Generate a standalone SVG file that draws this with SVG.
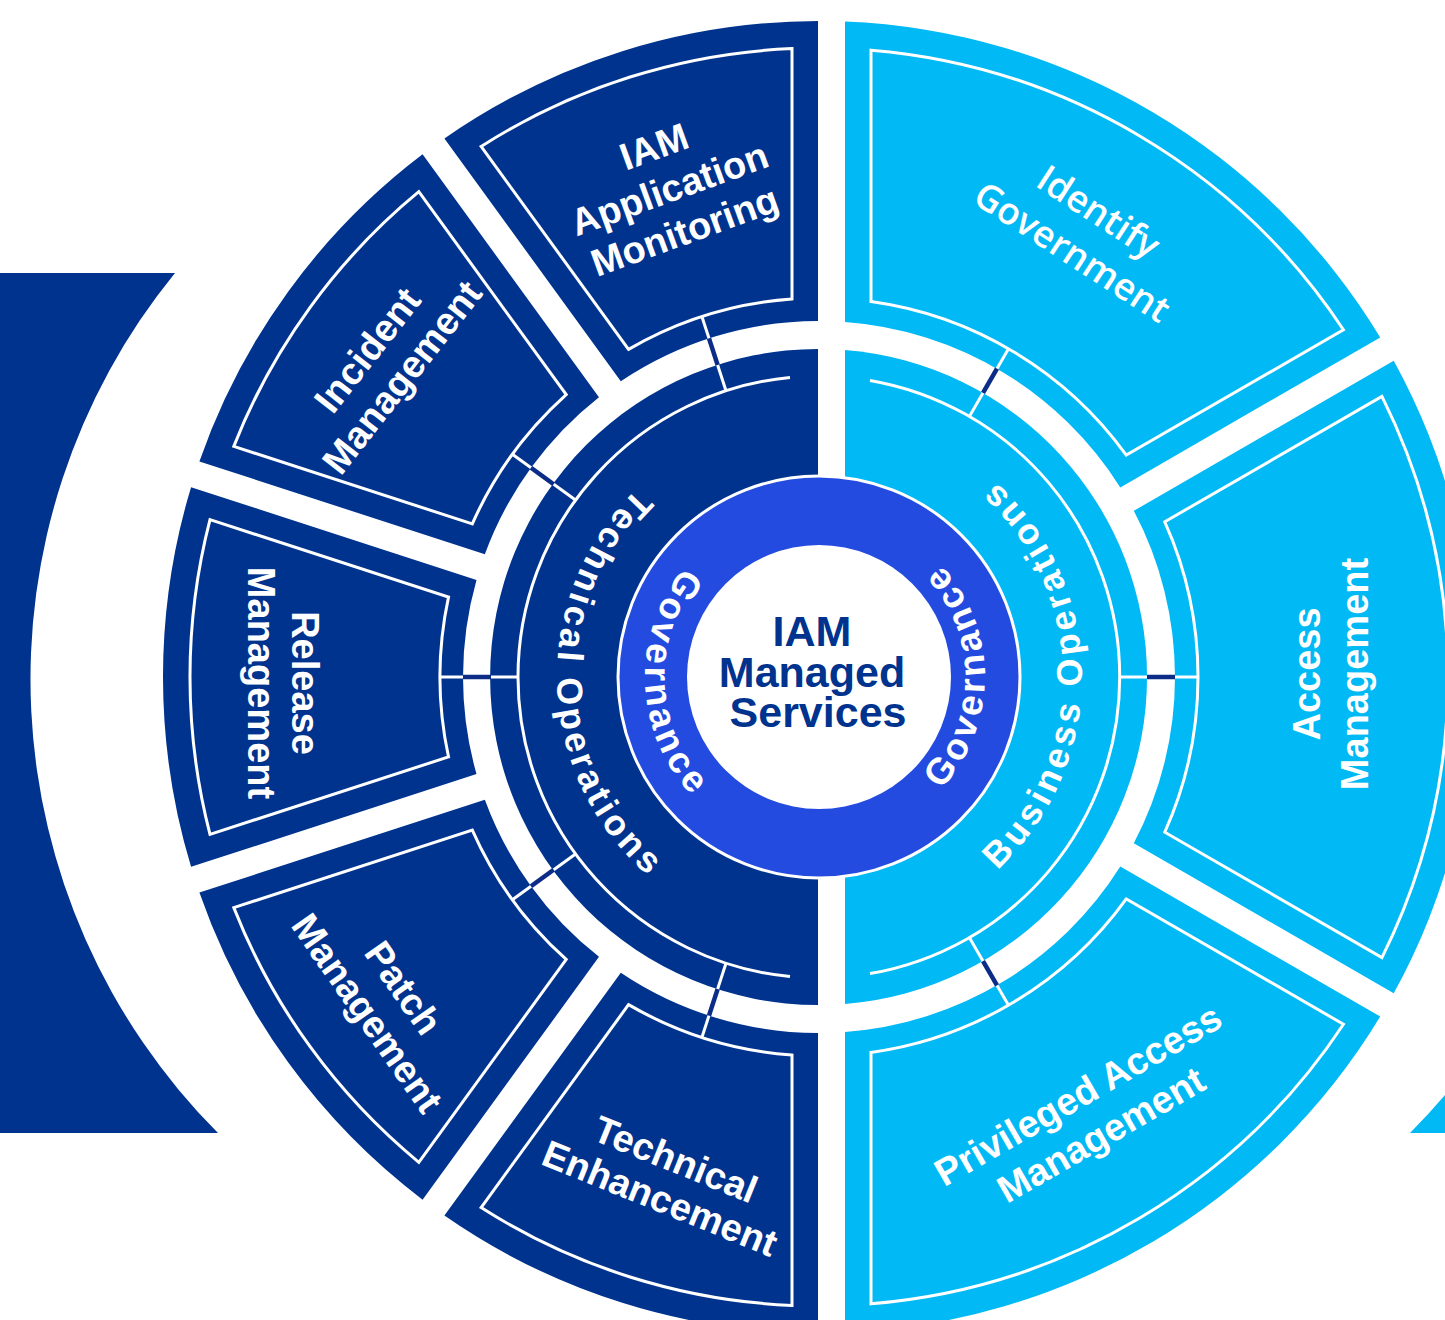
<svg xmlns="http://www.w3.org/2000/svg" width="1445" height="1320" viewBox="0 0 1445 1320">
<defs>
<style>
.navy{fill:#00338E}
.cyan{fill:#00B9F5}
.bd{fill:none;stroke:#fff;stroke-width:3}
.cw{stroke:#fff;stroke-width:3}
.cn{stroke:#0B2D88;stroke-width:4.5}
.arc{fill:none;stroke:#fff;stroke-width:3}
.lbl{font-family:"Liberation Sans",Arial,sans-serif;font-weight:bold;font-size:38px;fill:#fff;text-anchor:middle}
.ig{font-family:"Open Sans","Liberation Sans",sans-serif;font-weight:600;font-size:37px;fill:#fff;text-anchor:middle}
.ring{font-family:"Liberation Sans",Arial,sans-serif;font-weight:bold;font-size:36px;fill:#fff;text-anchor:middle}
.gov{font-family:"Liberation Sans",Arial,sans-serif;font-weight:bold;font-size:37px;fill:#fff;text-anchor:middle}
.ctr{font-family:"Liberation Sans",Arial,sans-serif;font-weight:bold;font-size:43px;fill:#00338E;text-anchor:middle}
</style>
<path id="segL" d="M342.50,-97.09 L627.93,-189.83 A656 656 0 0 1 627.93,189.83 L342.50,97.09 A356 356 0 0 0 342.50,-97.09 Z"/>
<path id="bdL" d="M370.49,-79.89 L609.00,-157.39 A629 629 0 0 1 609.00,157.39 L370.49,79.89 A379 379 0 0 0 370.49,-79.89 Z"/>
<path id="pTO" d="M819,415 A262 262 0 0 0 819,939"/>
<path id="pBO" d="M819,940 A263 263 0 0 0 819,414"/>
<path id="pGL" d="M819,503 A174 174 0 0 0 819,851"/>
<path id="pGR" d="M819,843 A166 166 0 0 0 819,511"/>
<g id="conn">
<line x1="301" y1="0" x2="379" y2="0" class="cw"/>
<line x1="328" y1="0" x2="356" y2="0" class="cn"/>
</g>
</defs>

<rect width="1445" height="1320" fill="#fff"/>

<g id="side-shapes">
<path class="navy" d="M0,273 L175,273 A643 643 0 0 0 218,1133 L0,1133 Z"/>
<path class="cyan" d="M1410,1133 A643 643 0 0 0 1453.6,273 L1500,273 L1500,1133 Z"/>
</g>

<g id="seg-iam-app-mon">
<path class="navy" d="M620.8,381.3 L444.41,138.47 A656 656 0 0 1 818,21 L818,321 A356 356 0 0 0 620.8,381.3 Z"/>
<path class="bd" d="M628.53,349.35 L481.12,146.46 A629 629 0 0 1 792,48.58 L792,298.96 A379 379 0 0 0 628.53,349.35 Z"/>
<g transform="translate(669 188) rotate(-20)"><text class="lbl"><tspan x="0" y="-31">IAM</tspan><tspan x="0" y="14">Application</tspan><tspan x="0" y="59">Monitoring</tspan></text></g>
</g>

<g id="seg-incident">
<g transform="translate(819 677) rotate(-144)"><use href="#segL" class="navy"/><use href="#bdL" class="bd"/></g>
<g transform="translate(384 363) rotate(-52)"><text class="lbl"><tspan x="0" y="-8">Incident</tspan><tspan x="0" y="36">Management</tspan></text></g>
</g>

<g id="seg-release">
<g transform="translate(819 677) rotate(180)"><use href="#segL" class="navy"/><use href="#bdL" class="bd"/></g>
<g transform="translate(284 683) rotate(90)"><text class="lbl"><tspan x="0" y="-8">Release</tspan><tspan x="0" y="36">Management</tspan></text></g>
</g>

<g id="seg-patch">
<g transform="translate(819 677) rotate(144)"><use href="#segL" class="navy"/><use href="#bdL" class="bd"/></g>
<g transform="translate(386 1000) rotate(55)"><text class="lbl"><tspan x="0" y="-8">Patch</tspan><tspan x="0" y="36">Management</tspan></text></g>
</g>

<g id="seg-tech-enh">
<path class="navy" d="M620.8,972.7 L444.41,1215.53 A656 656 0 0 0 818,1333 L818,1033 A356 356 0 0 1 620.8,972.7 Z"/>
<path class="bd" d="M628.53,1004.65 L481.12,1207.54 A629 629 0 0 0 792,1305.42 L792,1055.04 A379 379 0 0 1 628.53,1004.65 Z"/>
<g transform="translate(668 1178) rotate(22)"><text class="lbl"><tspan x="0" y="-7">Technical</tspan><tspan x="0" y="35">Enhancement</tspan></text></g>
</g>

<g id="seg-identify">
<path class="cyan" d="M845,321.95 L845,21.52 A656 656 0 0 1 1380.23,337.38 L1120.32,487.44 A356 356 0 0 0 845,321.95 Z"/>
<path class="bd" d="M871,301.58 L871,50.15 A629 629 0 0 1 1343.44,329.75 L1126.27,455.14 A379 379 0 0 0 871,301.58 Z"/>
<g transform="translate(1086 231) rotate(33)"><text class="ig"><tspan x="0" y="-10">Identify</tspan><tspan x="0" y="38">Government</tspan></text></g>
</g>

<g id="seg-access">
<path class="cyan" d="M1133.82,510.82 L1393.73,360.76 A656 656 0 0 1 1393.73,993.24 L1133.82,843.18 A356 356 0 0 0 1133.82,510.82 Z"/>
<path class="bd" d="M1164.77,521.82 L1381.94,396.43 A629 629 0 0 1 1381.94,957.57 L1164.77,832.18 A379 379 0 0 0 1164.77,521.82 Z"/>
<g transform="translate(1330 674) rotate(-90)"><text class="lbl"><tspan x="0" y="-10">Access</tspan><tspan x="0" y="38">Management</tspan></text></g>
</g>

<g id="seg-pam">
<path class="cyan" d="M845,1032.05 L845,1332.48 A656 656 0 0 0 1380.23,1016.62 L1120.32,866.56 A356 356 0 0 1 845,1032.05 Z"/>
<path class="bd" d="M871,1052.42 L871,1303.85 A629 629 0 0 0 1343.44,1024.25 L1126.27,898.86 A379 379 0 0 1 871,1052.42 Z"/>
<g transform="translate(1089 1114) rotate(-30)"><text class="lbl"><tspan x="0" y="-9">Privileged Access</tspan><tspan x="0" y="37">Management</tspan></text></g>
</g>

<g id="ring-technical-operations">
<path class="navy" d="M818,349 A328 328 0 0 0 818,1005 Z"/>
<path class="arc" d="M790,377.4 A301 301 0 0 0 790,976.6"/>
<text class="ring" style="letter-spacing:3.8px"><textPath href="#pTO" startOffset="420.7">Technical Operations</textPath></text>
</g>

<g id="ring-business-operations">
<path class="cyan" d="M845,350.03 A328 328 0 0 1 845,1003.97 Z"/>
<path class="arc" d="M870,973.6 A301 301 0 0 0 870,380.4"/>
<text class="ring" style="letter-spacing:4.2px"><textPath href="#pBO" startOffset="415.9">Business Operations</textPath></text>
</g>

<g id="connectors">
<use href="#conn" transform="translate(819 677) rotate(-108)"/>
<use href="#conn" transform="translate(819 677) rotate(-144)"/>
<use href="#conn" transform="translate(819 677) rotate(180)"/>
<use href="#conn" transform="translate(819 677) rotate(144)"/>
<use href="#conn" transform="translate(819 677) rotate(108)"/>
<use href="#conn" transform="translate(819 677) rotate(-60)"/>
<use href="#conn" transform="translate(819 677) rotate(0)"/>
<use href="#conn" transform="translate(819 677) rotate(60)"/>
</g>

<g id="governance">
<circle cx="819" cy="677" r="201" fill="#234BE0" stroke="#fff" stroke-width="3"/>
<text class="gov" style="letter-spacing:3.9px"><textPath href="#pGL" startOffset="280.9">Governance</textPath></text>
<text class="gov" style="letter-spacing:3.6px"><textPath href="#pGR" startOffset="261.9">Governance</textPath></text>
</g>

<g id="center">
<circle cx="819" cy="677" r="132" fill="#fff"/>
<text class="ctr"><tspan x="812" y="646">IAM</tspan><tspan x="812" y="687">Managed</tspan><tspan x="818" y="727">Services</tspan></text>
</g>
</svg>
